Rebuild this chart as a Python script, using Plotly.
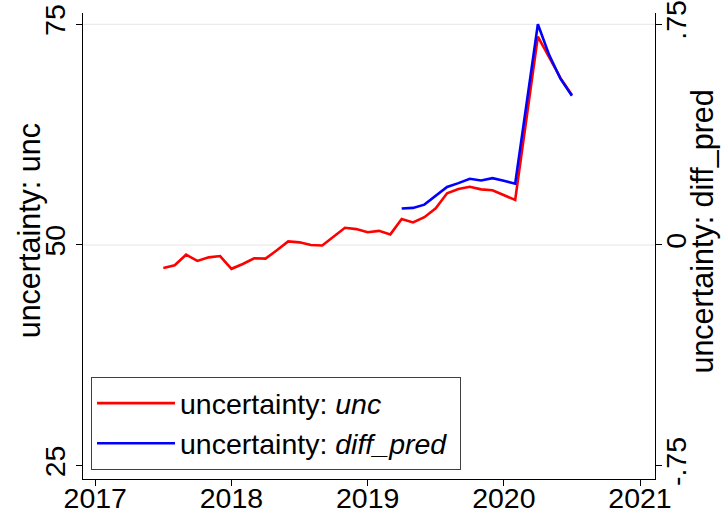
import plotly.graph_objects as go

# monthly dates as fractional years (Stata %tm style), 2020m3 not shown
unc_dates = [2017 + m / 12 for m in range(6, 12)] + \
            [2018 + m / 12 for m in range(12)] + \
            [2019 + m / 12 for m in range(12)] + \
            [2020 + 0 / 12, 2020 + 1 / 12, 2020 + 3 / 12, 2020 + 4 / 12,
             2020 + 5 / 12, 2020 + 6 / 12]
unc = [47.4, 47.7, 48.9, 48.2, 48.6, 48.75,
       47.3, 47.85, 48.5, 48.45, 49.4, 50.4, 50.3, 50.0, 49.95, 50.95, 51.95, 51.8,
       51.45, 51.6, 51.2, 52.95, 52.55, 53.15, 54.15, 55.85, 56.35, 56.6, 56.3, 56.2,
       55.65, 55.1, 73.6, 71.2, 68.9, 67.0]

pred_dates = [2019 + m / 12 for m in range(3, 12)] + \
             [2020 + 0 / 12, 2020 + 1 / 12, 2020 + 3 / 12, 2020 + 4 / 12,
              2020 + 5 / 12, 2020 + 6 / 12]
diff_pred = [0.124, 0.126, 0.137, 0.168, 0.197, 0.21, 0.225, 0.219, 0.227,
             0.218, 0.208, 0.75, 0.645, 0.564, 0.507]

year_ticks = [2017, 2018, 2019, 2020, 2021]
left_ticks = [25, 50, 75]
left_grid = [50, 75]
right_ticks = [-0.75, 0, 0.75]
right_labels = ['-.75', '0', '.75']

FONT = 'Liberation Sans, Arial, sans-serif'
FS = 28.5
TITLE_FS = 30.5

fig = go.Figure()
fig.add_trace(go.Scatter(x=unc_dates, y=unc, mode='lines',
                         name='uncertainty: <i>unc</i>',
                         line=dict(color='#ff0000', width=2.6)))
fig.add_trace(go.Scatter(x=pred_dates, y=diff_pred, mode='lines', yaxis='y2',
                         name='uncertainty: <i>diff_pred</i>&nbsp;',
                         line=dict(color='#0000ff', width=2.6)))

# gridlines only at 50 and 75 (Stata draws none at 25)
for g in left_grid:
    fig.add_shape(type='line', xref='paper', x0=0, x1=1, yref='y', y0=g, y1=g,
                  line=dict(color='#e6e6e6', width=1), layer='below')

# axis titles, placed like Stata does them
fig.add_annotation(text='uncertainty: unc', textangle=-90, showarrow=False,
                   xref='paper', yref='paper', x=-0.094, y=0.532,
                   xanchor='center', yanchor='middle', font=dict(size=TITLE_FS))
fig.add_annotation(text='uncertainty: diff_pred', textangle=-90, showarrow=False,
                   xref='paper', yref='paper', x=1.083, y=0.532,
                   xanchor='center', yanchor='middle', font=dict(size=TITLE_FS))

axis_style = dict(showline=True, linecolor='black', linewidth=1,
                  ticks='outside', ticklen=6, tickcolor='black',
                  showgrid=False, zeroline=False, automargin=False)

fig.update_layout(
    width=722, height=517,
    margin=dict(l=83, r=67, t=13, b=38),
    paper_bgcolor='white', plot_bgcolor='white',
    font=dict(family=FONT, size=FS, color='black'),
    showlegend=True,
    legend=dict(x=0.014, y=0.019, xanchor='left', yanchor='bottom',
                bgcolor='white', bordercolor='#404040', borderwidth=1,
                itemwidth=78, font=dict(size=FS), tracegroupgap=0),
    xaxis=dict(range=[2016.91, 2021.11], tickvals=year_ticks,
               ticklabelstandoff=-12, **axis_style),
    yaxis=dict(range=[23.49, 76.28], tickvals=left_ticks, tickangle=-90,
               ticklabelstandoff=0, **axis_style),
    yaxis2=dict(range=[-0.795, 0.788], tickvals=right_ticks, ticktext=right_labels,
                tickangle=-90, overlaying='y', side='right',
                ticklabelstandoff=-10, **axis_style),
)

# drop the page's default body margin so the figure sits at the window corner
fig.write_html("out.html", config={'displayModeBar': False},
               post_script="document.body.style.margin = '0';")
